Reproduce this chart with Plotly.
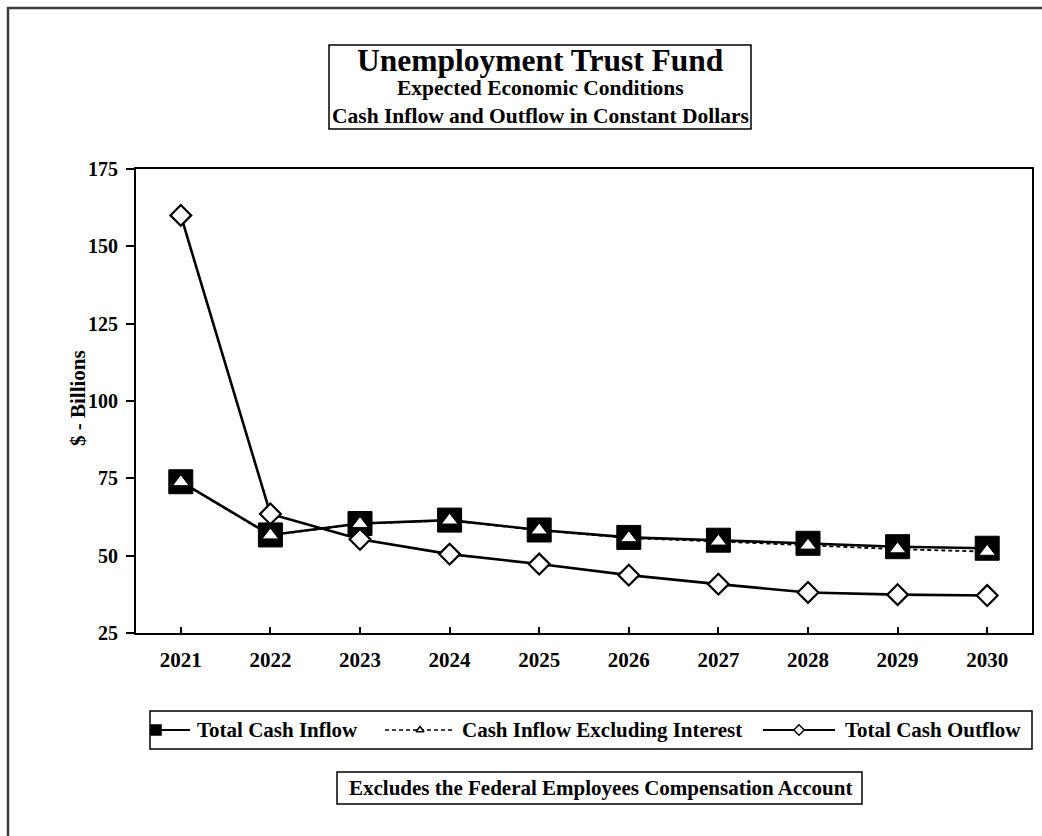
import plotly.graph_objects as go

# Fiscal years on the category axis
years = ["2021", "2022", "2023", "2024", "2025", "2026", "2027", "2028", "2029", "2030"]

# $ billions, constant dollars
total_cash_inflow = [73.9, 56.7, 60.4, 61.5, 58.3, 55.9, 55.0, 54.0, 52.9, 52.4]
inflow_excl_interest = [73.8, 56.6, 60.3, 61.4, 58.2, 55.7, 54.6, 53.3, 52.1, 51.3]
total_cash_outflow = [160.0, 63.5, 55.3, 50.5, 47.3, 43.7, 40.8, 38.1, 37.4, 37.1]

y_ticks = [25, 50, 75, 100, 125, 150, 175]

W, H = 1042, 836
FONT = "Liberation Serif"


def px(x):
    return x / W


def py(y):
    return 1 - y / H


# plot frame in pixels
PL, PR, PT, PB = 136, 1032, 169, 633

fig = go.Figure()

fig.add_trace(go.Scatter(
    x=years, y=total_cash_inflow, name="Total Cash Inflow", mode="lines+markers",
    line=dict(color="black", width=2.6),
    marker=dict(symbol="square", size=24, color="black", line=dict(color="black", width=1)),
    showlegend=False,
))
fig.add_trace(go.Scatter(
    x=years, y=inflow_excl_interest, name="Cash Inflow Excluding Interest", mode="lines+markers",
    line=dict(color="black", width=1.8, dash="4px,3px"),
    marker=dict(symbol="triangle-up", size=14.5, color="white", line=dict(color="black", width=1)),
    showlegend=False,
))
fig.add_trace(go.Scatter(
    x=years, y=total_cash_outflow, name="Total Cash Outflow", mode="lines+markers",
    line=dict(color="black", width=2.6),
    marker=dict(symbol="diamond", size=16, color="white", line=dict(color="black", width=2.2)),
    showlegend=False,
))

# hand-built legend row, drawn on a separate pixel-space axis pair
LY = 730
legend_items = [
    # (line x0, line x1, marker x, dash, symbol, fill, msize)
    (150, 190, 156, "solid", "square", "black", 10),
    (385, 455, 420, "4px,3px", "triangle-up", "white", 7),
    (763, 835, 799, "solid", "diamond", "white", 8),
]
for x0, x1, mx, dash, sym, fill, ms in legend_items:
    fig.add_trace(go.Scatter(
        x=[x0, x1], y=[LY, LY], xaxis="x2", yaxis="y2", mode="lines",
        line=dict(color="black", width=2.2 if dash == "solid" else 1.6, dash=dash),
        showlegend=False, hoverinfo="skip",
    ))
    fig.add_trace(go.Scatter(
        x=[mx], y=[LY], xaxis="x2", yaxis="y2", mode="markers",
        marker=dict(symbol=sym, size=ms, color=fill, line=dict(color="black", width=1.5)),
        showlegend=False, hoverinfo="skip",
    ))

legend_labels = [(195, "Total Cash Inflow"), (460, "Cash Inflow Excluding Interest"),
                 (843, "Total Cash Outflow")]

annotations = []
for lx, txt in legend_labels:
    annotations.append(dict(
        x=px(lx), y=py(LY), xref="paper", yref="paper", text=f"<b>{txt}</b>",
        showarrow=False, xanchor="left", yanchor="middle",
        font=dict(family=FONT, size=21, color="black"),
    ))

# title block
annotations += [
    dict(x=px(540), y=py(61), xref="paper", yref="paper", text="<b>Unemployment Trust Fund</b>",
         showarrow=False, xanchor="center", yanchor="middle", font=dict(family=FONT, size=31.5, color="black")),
    dict(x=px(540), y=py(88), xref="paper", yref="paper", text="<b>Expected Economic Conditions</b>",
         showarrow=False, xanchor="center", yanchor="middle", font=dict(family=FONT, size=21.5, color="black")),
    dict(x=px(540), y=py(116), xref="paper", yref="paper",
         text="<b>Cash Inflow and Outflow in Constant Dollars</b>",
         showarrow=False, xanchor="center", yanchor="middle", font=dict(family=FONT, size=21.5, color="black")),
    dict(x=px(600), y=py(788), xref="paper", yref="paper",
         text="<b>Excludes the Federal Employees Compensation Account</b>",
         showarrow=False, xanchor="center", yanchor="middle", font=dict(family=FONT, size=21, color="black")),
    dict(x=px(78), y=py(398), xref="paper", yref="paper", text="<b>$ - Billions</b>", textangle=-90,
         showarrow=False, xanchor="center", yanchor="middle", font=dict(family=FONT, size=21, color="black")),
]

shapes = [
    # outer frame
    dict(type="rect", xref="paper", yref="paper", x0=px(8), x1=px(1060), y0=py(8), y1=py(860),
         line=dict(color="#3c3c3c", width=2.5)),
    # title box
    dict(type="rect", xref="paper", yref="paper", x0=px(329), x1=px(751), y0=py(45), y1=py(129),
         line=dict(color="black", width=1.5)),
    # legend box
    dict(type="rect", xref="paper", yref="paper", x0=px(150), x1=px(1032), y0=py(711), y1=py(749),
         line=dict(color="black", width=1.5)),
    # footnote box
    dict(type="rect", xref="paper", yref="paper", x0=px(337), x1=px(862), y0=py(772), y1=py(804),
         line=dict(color="black", width=1.5)),
]

fig.update_layout(
    width=W, height=H,
    margin=dict(l=0, r=0, t=0, b=0, pad=0, autoexpand=False),
    paper_bgcolor="white", plot_bgcolor="rgba(0,0,0,0)",
    font=dict(family=FONT, color="black"),
    xaxis=dict(
        type="category", range=[-0.5, 9.5],
        domain=[px(PL), px(PR)], anchor="y", automargin=False,
        showline=True, linecolor="black", linewidth=2, mirror=True,
        ticks="inside", ticklen=6, tickcolor="black", tickwidth=1.5,
        showgrid=False, zeroline=False,
        tickfont=dict(family=FONT, size=21, color="black", weight="bold"),
        ticklabelstandoff=7,
    ),
    yaxis=dict(
        range=[25, 175], tickvals=y_ticks,
        domain=[py(PB), py(PT)], anchor="x", automargin=False,
        showline=True, linecolor="black", linewidth=2, mirror=True,
        ticks="outside", ticklen=8, tickcolor="black", tickwidth=1.5,
        showgrid=False, zeroline=False,
        tickfont=dict(family=FONT, size=20, color="black", weight="bold"),
        ticklabelstandoff=4,
    ),
    xaxis2=dict(domain=[0, 1], range=[0, W], anchor="y2", visible=False,
                fixedrange=True, automargin=False),
    yaxis2=dict(domain=[0, 1], range=[H, 0], anchor="x2", visible=False,
                fixedrange=True, automargin=False),
    annotations=annotations,
    shapes=shapes,
    showlegend=False,
)

fig.write_html("out.html")
